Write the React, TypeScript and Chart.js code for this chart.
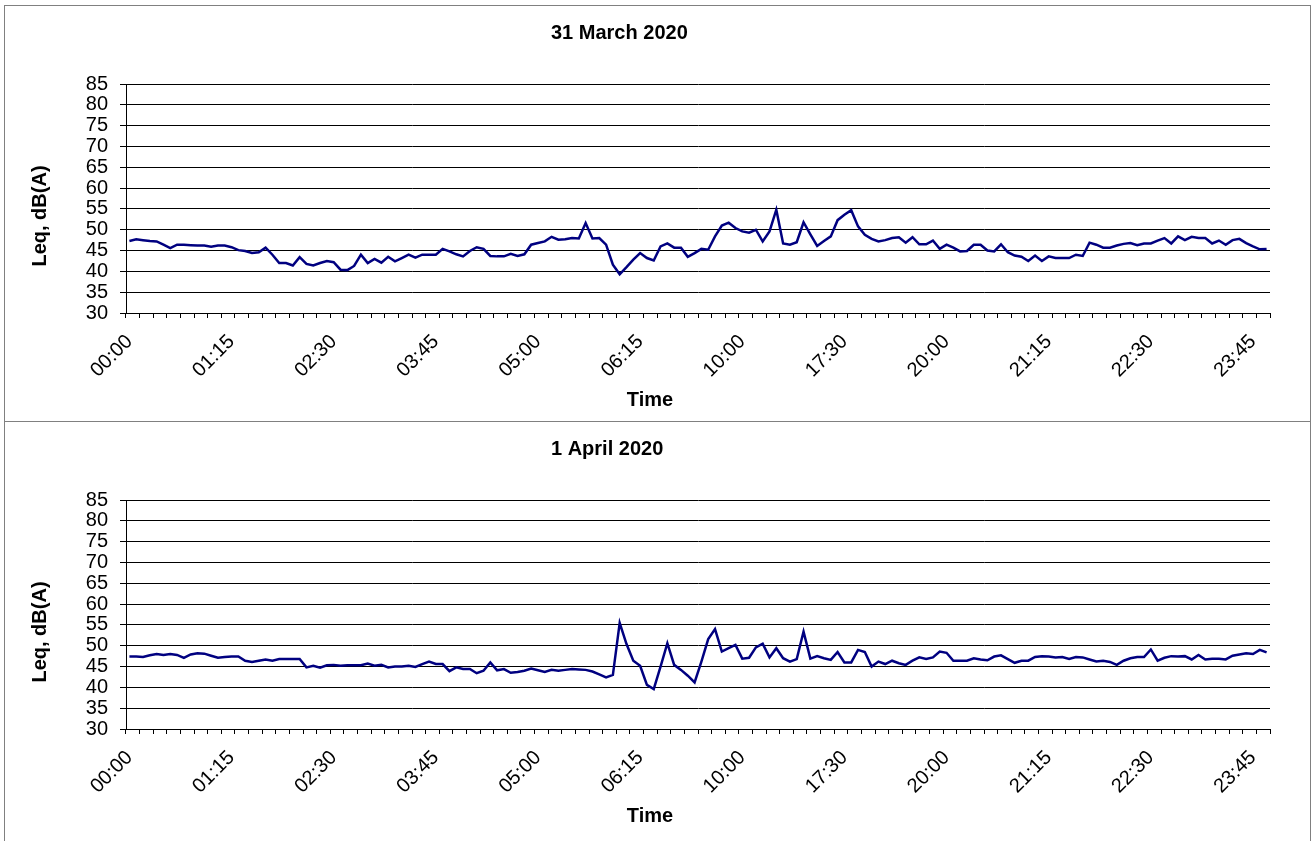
import React, { useEffect, useRef } from "react";
import { Chart, registerables } from "chart.js";

Chart.register(...registerables);

// ---- Data ----
const tickLabels = ["00:00", "01:15", "02:30", "03:45", "05:00", "06:15", "10:00", "17:30", "20:00", "21:15", "22:30", "23:45"];
const LABEL_EVERY = 15;
const N_POINTS = 168;

const march31 = [
  47.3, 47.7, 47.5, 47.3, 47.2, 46.4, 45.6, 46.4, 46.4, 46.3,
  46.2, 46.2, 45.9, 46.2, 46.2, 45.8, 45.1, 44.9, 44.4, 44.6,
  45.7, 44.0, 42.0, 42.0, 41.4, 43.4, 41.8, 41.4, 42.0, 42.5,
  42.2, 40.4, 40.3, 41.3, 44.0, 42.0, 43.0, 42.1, 43.5, 42.4,
  43.2, 44.0, 43.3, 44.0, 44.0, 44.0, 45.4, 44.8, 44.1, 43.6,
  44.9, 45.8, 45.4, 43.7, 43.6, 43.6, 44.2, 43.7, 44.1, 46.4,
  46.8, 47.2, 48.3, 47.6, 47.7, 48.0, 47.9, 51.6, 47.9, 48.0,
  46.4, 41.6, 39.3, 41.0, 42.8, 44.4, 43.2, 42.6, 46.0, 46.7,
  45.7, 45.7, 43.5, 44.4, 45.4, 45.2, 48.4, 51.0, 51.7, 50.4,
  49.6, 49.3, 50.0, 47.2, 49.6, 54.8, 46.7, 46.4, 47.0, 51.8,
  48.9, 46.1, 47.3, 48.4, 52.3, 53.6, 54.7, 50.8, 48.8, 47.8,
  47.2, 47.5, 48.0, 48.2, 46.9, 48.2, 46.5, 46.5, 47.4, 45.4,
  46.4, 45.7, 44.8, 44.9, 46.4, 46.4, 45.0, 44.8, 46.5, 44.6,
  43.8, 43.5, 42.5, 43.8, 42.5, 43.6, 43.2, 43.2, 43.2, 44.0,
  43.7, 46.9, 46.4, 45.7, 45.7, 46.2, 46.6, 46.8, 46.3, 46.7,
  46.7, 47.4, 48.0, 46.7, 48.4, 47.5, 48.3, 48.0, 48.0, 46.7,
  47.4, 46.4, 47.5, 47.8, 46.8, 46.0, 45.3, 45.4,
];

const april1 = [
  47.4, 47.4, 47.3, 47.7, 48.0, 47.8, 48.0, 47.8, 47.1, 47.9,
  48.2, 48.1, 47.6, 47.1, 47.3, 47.4, 47.4, 46.4, 46.1, 46.4,
  46.7, 46.4, 46.8, 46.8, 46.8, 46.8, 44.8, 45.2, 44.7, 45.3,
  45.4, 45.2, 45.3, 45.3, 45.3, 45.7, 45.2, 45.4, 44.8, 45.0,
  45.0, 45.2, 44.9, 45.6, 46.2, 45.6, 45.6, 43.9, 44.8, 44.4,
  44.4, 43.4, 44.0, 46.0, 44.1, 44.4, 43.5, 43.7, 44.0, 44.5,
  44.1, 43.7, 44.2, 44.0, 44.2, 44.4, 44.3, 44.2, 43.8, 43.1,
  42.4, 43.0, 55.5, 50.4, 46.4, 45.2, 40.6, 39.6, 45.0, 50.6,
  45.4, 44.2, 42.8, 41.2, 46.2, 51.6, 54.0, 48.6, 49.4, 50.2,
  46.9, 47.1, 49.6, 50.5, 47.2, 49.4, 47.0, 46.2, 46.8, 53.4,
  46.9, 47.5, 47.0, 46.6, 48.5, 46.0, 46.0, 49.0, 48.5, 45.0,
  46.2, 45.6, 46.4, 45.8, 45.4, 46.4, 47.2, 46.8, 47.2, 48.6,
  48.3, 46.4, 46.4, 46.4, 47.0, 46.7, 46.5, 47.4, 47.7, 46.8,
  45.9, 46.4, 46.4, 47.3, 47.5, 47.4, 47.2, 47.3, 46.8, 47.3,
  47.2, 46.7, 46.2, 46.4, 46.1, 45.4, 46.4, 47.0, 47.3, 47.3,
  49.1, 46.4, 47.1, 47.5, 47.4, 47.5, 46.7, 47.8, 46.7, 46.9,
  46.9, 46.7, 47.6, 47.9, 48.2, 48.0, 49.0, 48.4,
];

const panelTitles = ["31 March 2020", "1 April 2020"];
const xAxisTitle = "Time";
const yAxisTitle = "Leq, dB(A)";

// category labels derived from the displayed tick labels
function toMin(s: string) {
  const [h, m] = s.split(":").map(Number);
  return h * 60 + m;
}
function fmt(t: number) {
  const h = Math.floor(t / 60) % 24;
  const m = Math.round(t % 60);
  return String(h).padStart(2, "0") + ":" + String(m).padStart(2, "0");
}
const categories: string[] = [];
for (let i = 0; i < N_POINTS; i++) {
  const k = Math.floor(i / LABEL_EVERY);
  const j = i % LABEL_EVERY;
  const start = toMin(tickLabels[k]);
  const step = k + 1 < tickLabels.length ? (toMin(tickLabels[k + 1]) - start) / LABEL_EVERY : 5;
  categories.push(fmt(start + j * step));
}

const FONT = '"Liberation Sans", Arial, sans-serif';

const panelTextPlugin = {
  id: "panelText",
  afterDraw(chart: any, _args: any, opts: any) {
    const ctx = chart.ctx;
    ctx.save();
    ctx.fillStyle = "#000";
    ctx.font = `bold 20px ${FONT}`;
    ctx.textBaseline = "middle";
    ctx.textAlign = "left";
    ctx.fillText(opts.title, opts.titleX, opts.titleY);
    ctx.textAlign = "center";
    ctx.fillText(opts.xTitle, opts.xTitleX, opts.xTitleY);
    ctx.translate(opts.yTitleX, opts.yTitleY);
    ctx.rotate(-Math.PI / 2);
    ctx.fillText(opts.yTitle, 0, 0);
    ctx.restore();
  },
};

const CANVAS_W = 1304;
const CANVAS_H = 414;

function Panel({ values, title, top, height }: { values: number[]; title: string; top: number; height: number }) {
  const ref = useRef<HTMLCanvasElement>(null);
  useEffect(() => {
    if (!ref.current) return;
    const chart = new Chart(ref.current, {
      type: "line",
      data: {
        labels: categories,
        datasets: [
          {
            data: values,
            borderColor: "#000080",
            borderWidth: 2.5,
            pointRadius: 0,
            tension: 0,
            fill: false,
          },
        ],
      },
      plugins: [panelTextPlugin],
      options: {
        animation: false,
        responsive: false,
        devicePixelRatio: 1,
        layout: { padding: { left: 0, right: 39, top: 78, bottom: 0 } },
        plugins: {
          legend: { display: false },
          tooltip: { enabled: false },
          title: { display: false },
          panelText: {
            title,
            titleX: 546,
            titleY: 27,
            xTitle: xAxisTitle,
            xTitleX: 645,
            xTitleY: 394,
            yTitle: yAxisTitle,
            yTitleX: 35,
            yTitleY: 210,
          },
        } as any,
        scales: {
          x: {
            type: "category",
            offset: true,
            grid: {
              offset: true,
              drawOnChartArea: false,
              tickLength: 5,
              lineWidth: 1,
              color: (c: any) => (c.index === undefined || c.index % 2 === 0 ? "#000" : "rgba(0,0,0,0)"),
            },
            border: { display: true, color: "#000", width: 1 },
            ticks: {
              autoSkip: false,
              maxRotation: 45,
              minRotation: 45,
              padding: 12,
              color: "#000",
              font: { family: FONT, size: 20 },
              callback: (_v: any, i: number) => (i % LABEL_EVERY === 0 ? categories[i] : ""),
            },
            afterFit: (s: any) => {
              s.height = 107;
            },
          },
          y: {
            min: 30,
            max: 85,
            ticks: {
              stepSize: 5,
              autoSkip: false,
              padding: 12,
              color: "#000",
              font: { family: FONT, size: 20 },
            },
            grid: { color: "#000", lineWidth: 1, tickLength: 6 },
            border: { color: "#000", width: 1 },
            afterFit: (s: any) => {
              s.width = 121;
            },
          },
        },
      } as any,
    });
    return () => chart.destroy();
  }, [values, title]);

  return (
    <div
      style={{
        position: "absolute",
        left: 4,
        top,
        width: 1307,
        height,
        boxSizing: "border-box",
        border: "1px solid #808080",
        background: "#fff",
      }}
    >
      <canvas ref={ref} width={CANVAS_W} height={CANVAS_H} style={{ position: "absolute", left: 0, top: 0, width: CANVAS_W, height: CANVAS_H }} />
    </div>
  );
}

export default function App() {
  return (
    <div style={{ position: "fixed", left: 0, top: 0, width: 1311, height: 841, overflow: "hidden", background: "#fff" }}>
      <Panel values={march31} title={panelTitles[0]} top={5} height={417} />
      <Panel values={april1} title={panelTitles[1]} top={421} height={430} />
    </div>
  );
}
